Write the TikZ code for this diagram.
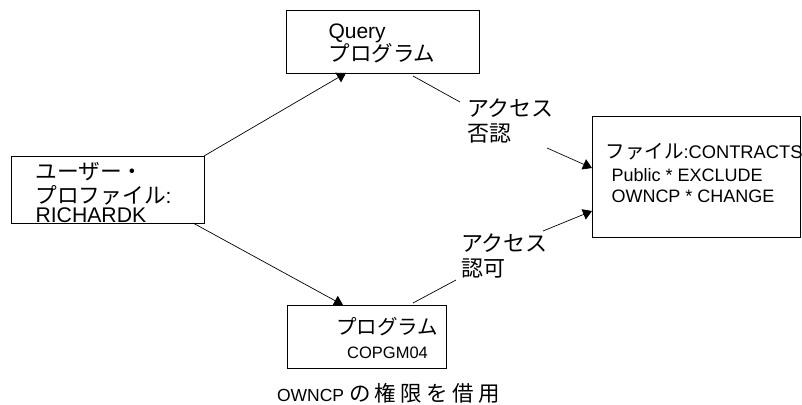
\documentclass[tikz,border=0pt]{standalone}
\usepackage{fontspec}
\setmainfont{Liberation Sans}
\newfontfamily\jp{Noto Sans CJK JP}
\newcommand\J[2]{{\jp\fontsize{#1}{#1}\selectfont #2}}
\newcommand\Jw[2]{{\jp\fontsize{#1}{#1}\selectfont\addfontfeature{LetterSpace=20}#2}}
\usetikzlibrary{arrows.meta}
\begin{document}
\begin{tikzpicture}[x=1pt,y=-1pt,
  box/.style={draw=black, line width=1pt, inner sep=0pt, outer sep=0pt, rectangle},
  txt/.style={inner sep=0pt, outer sep=0pt},
  lat/.style={font=\fontsize{#1}{#1}\selectfont},
  conn/.style={draw=black, line width=0.7pt},
  arr/.style={conn, -{Triangle[length=9pt,width=11pt]}}
]
\useasboundingbox (0,0) rectangle (802,404);

% boxes
\node[box, minimum width=193pt, minimum height=67pt] (user) at (107.5,189.5) {};
\node[box, minimum width=193pt, minimum height=62pt] (query) at (382.5,42) {};
\node[box, minimum width=159pt, minimum height=63pt] (copgm) at (366.5,336.5) {};
\node[box, minimum width=208pt, minimum height=121pt] (file) at (696,176.5) {};

% user profile text
\node[txt, anchor=base west] (u1) at (35.5,179) {\J{21.7}{ユーザー・}};
\node[txt, anchor=base west, lat=21] (u2) at (35.5,203) {\J{21.7}{プロファイル}:};
\node[txt, anchor=base west, lat=21.2] (u3) at (35.5,222) {RICHARDK};

% query program text
\node[txt, anchor=base west, lat=21] (q1) at (328.5,38) {Query};
\node[txt, anchor=base west] (q2) at (328.5,61) {\J{21.5}{プログラム}};

% COPGM04 text
\node[txt, anchor=base] (c1) at (387,334) {\J{20.5}{プログラム}};
\node[txt, anchor=base, lat=16.5] (c2) at (387.5,358) {COPGM04};

% file text
\node[txt, anchor=base west, lat=18.3] (f1) at (605.5,158) {\J{19.5}{ファイル}:CONTRACTS};
\node[txt, anchor=base west, lat=18] (f2) at (611.5,181) {Public * EXCLUDE};
\node[txt, anchor=base west, lat=18] (f3) at (611.5,202) {OWNCP * CHANGE};

% labels
\node[txt, anchor=base west] (deny1) at (467,116) {\J{22}{アクセス}};
\node[txt, anchor=base west] (deny2) at (467,141.5) {\J{22}{否認}};
\node[txt, anchor=base west] (grant1) at (461,251) {\J{22}{アクセス}};
\node[txt, anchor=base west] (grant2) at (461,276) {\J{22}{認可}};

% note
\node[txt, anchor=base west, lat=17.5] (note) at (277,401.5) {OWNCP\hspace{5pt}\Jw{21.5}{の権限を借用}};

% connectors
\draw[arr] (user.north east) -- ([xshift=60pt]query.south west);
\draw[arr] ([xshift=-11pt]user.south east) -- ([xshift=56pt]copgm.north west);

\coordinate (d1) at (460,102);
\coordinate (d2) at (547,148);
\draw[conn] ([xshift=127pt,yshift=-3pt]query.south west) -- (d1);
\draw[arr] (d2) -- ([yshift=8.5pt]file.west);

\coordinate (g1) at (456,280);
\coordinate (g2) at (543,231);
\draw[conn] ([xshift=126pt,yshift=2pt]copgm.north west) -- (g1);
\draw[arr] (g2) -- ([yshift=-34.5pt]file.west);
\end{tikzpicture}
\end{document}
